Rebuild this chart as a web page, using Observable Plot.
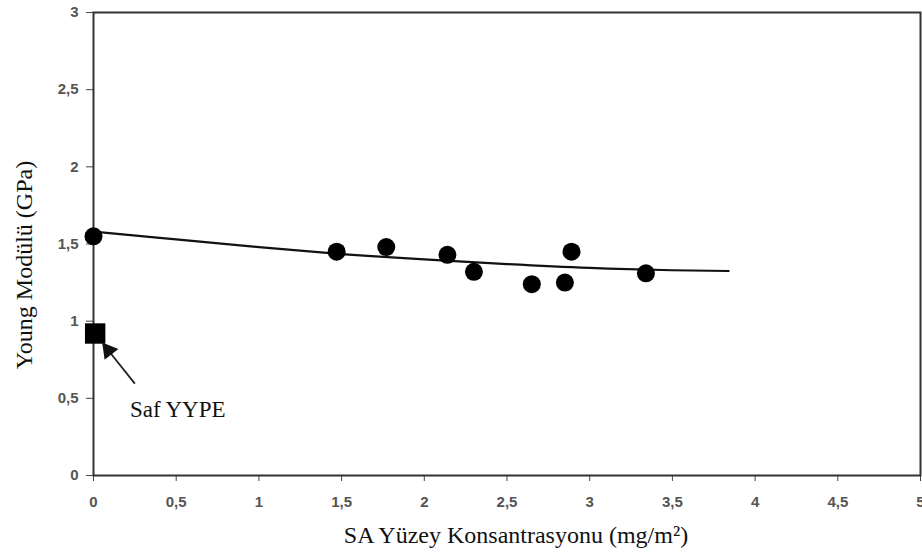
<!DOCTYPE html>
<html>
<head>
<meta charset="utf-8">
<script src="https://cdn.jsdelivr.net/npm/d3@7"></script>
<script src="https://cdn.jsdelivr.net/npm/@observablehq/plot@0.6"></script>
<style>
  body { margin: 0; background: #fff; }
  #chart svg { display: block; }
</style>
</head>
<body>
<div id="chart"></div>
<script>
// Measured points (SA surface concentration, Young modulus)
const concX = [0, 1.47, 1.77, 2.14, 2.30, 2.65, 2.85, 2.89, 3.34];
const modulusY = [1.55, 1.45, 1.48, 1.43, 1.32, 1.24, 1.25, 1.45, 1.31];
// Pure HDPE point
const pureX = [0.01];
const pureY = [0.92];
// Fitted trend curve
const fitX = [0, 0.5, 1, 1.5, 2, 2.5, 3, 3.5, 3.84];
const fitY = [1.58, 1.53, 1.48, 1.435, 1.40, 1.37, 1.345, 1.33, 1.325];
const xTicks = [0, 0.5, 1, 1.5, 2, 2.5, 3, 3.5, 4, 4.5, 5];
const yTicks = [0, 0.5, 1, 1.5, 2, 2.5, 3];
// Annotation "Saf YYPE" arrow (tail -> tip) and label
const arrowTail = [0.25, 0.595];
const arrowTip = [0.09, 0.81];
const labelPos = [0.22, 0.43];

const pts = concX.map((x, i) => ({x, y: modulusY[i]}));
const pure = pureX.map((x, i) => ({x, y: pureY[i]}));
const fit = fitX.map((x, i) => ({x, y: fitY[i]}));
const fmt = d => String(d).replace(".", ",");

const chart = Plot.plot({
  width: 922,
  height: 554,
  marginLeft: 93,
  marginRight: 2,
  marginTop: 12,
  marginBottom: 79,
  x: {domain: [0, 5]},
  y: {domain: [0, 3]},
  style: {background: "#fff"},
  marks: [
    Plot.axisX({ticks: xTicks, tickFormat: fmt, tickSize: 6, tickPadding: 15, stroke: "#444",
      fill: "#555", fontWeight: "bold", fontSize: 15, fontFamily: "Liberation Sans, Arial, sans-serif",
      label: null}),
    Plot.axisY({ticks: yTicks, tickFormat: fmt, tickSize: 7, tickPadding: 8, stroke: "#444",
      fill: "#555", fontWeight: "bold", fontSize: 15, fontFamily: "Liberation Sans, Arial, sans-serif",
      label: null}),
    Plot.frame({stroke: "#333", strokeWidth: 2}),
    Plot.line(fit, {x: "x", y: "y", curve: "natural", stroke: "#111", strokeWidth: 2.2}),
    Plot.dot(pts, {x: "x", y: "y", r: 9, fill: "#000", stroke: "none"}),
    Plot.dot(pure, {x: "x", y: "y", symbol: "square", r: 11.5, fill: "#000", stroke: "none"}),
    Plot.link([{x1: arrowTail[0], y1: arrowTail[1], x2: arrowTip[0], y2: arrowTip[1]}],
      {x1: "x1", y1: "y1", x2: "x2", y2: "y2", stroke: "#222", strokeWidth: 1.8}),
    Plot.dot([{x: arrowTip[0], y: arrowTip[1]}], {x: "x", y: "y", symbol: "triangle", r: 6.5,
      rotate: -38, fill: "#111", stroke: "none"}),
    Plot.text(["Saf YYPE"], {x: labelPos[0], y: labelPos[1], text: d => d, textAnchor: "start", fontSize: 23,
      fontFamily: "Liberation Serif, Times New Roman, serif", fill: "#111"})
  ]
});

// axis titles
const svg = d3.select(chart);
svg.append("text")
  .attr("x", 516).attr("y", 543)
  .attr("text-anchor", "middle")
  .attr("font-family", "Liberation Serif, Times New Roman, serif")
  .attr("font-size", 24).attr("fill", "#111")
  .text("SA Yüzey Konsantrasyonu (mg/m²)");
svg.append("text")
  .attr("transform", "translate(32,265) rotate(-90)")
  .attr("text-anchor", "middle")
  .attr("font-family", "Liberation Serif, Times New Roman, serif")
  .attr("font-size", 24).attr("fill", "#111")
  .text("Young Modülü (GPa)");

document.getElementById("chart").appendChild(chart);
</script>
</body>
</html>
